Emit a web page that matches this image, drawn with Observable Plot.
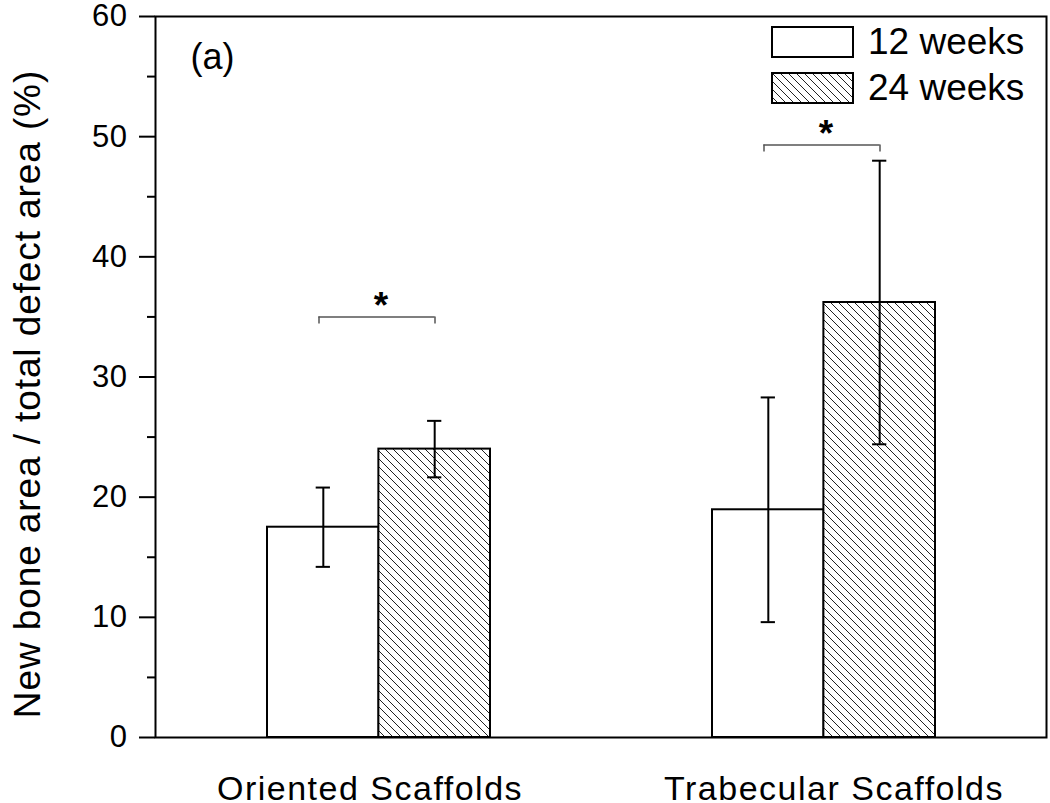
<!DOCTYPE html>
<html>
<head>
<meta charset="utf-8">
<script src="https://cdn.jsdelivr.net/npm/d3@7"></script>
<script src="https://cdn.jsdelivr.net/npm/@observablehq/plot@0.6"></script>
<style>
  html, body { margin: 0; padding: 0; background: white; }
  #wrap { position: relative; width: 1050px; height: 803px; font-family: "Liberation Sans", Arial, sans-serif; }
  #legend { position: absolute; left: 771px; top: 26px; }
  .row { display: flex; align-items: center; height: 32px; margin-bottom: 14px; }
  .row svg { display: block; }
  .row span { font-size: 37px; margin-left: 14px; line-height: 32px; color: black; }
</style>
</head>
<body>
<div id="wrap">
  <div id="chart"></div>
  <div id="legend"></div>
</div>
<script>
// ---- data ----
const groups = ["Oriented Scaffolds", "Trabecular Scaffolds"];
const seriesNames = ["12 weeks", "24 weeks"];
const mean12 = [17.5, 18.95];
const err12 = [3.3, 9.35];
const mean24 = [24.0, 36.2];
const err24 = [2.35, 11.8];
const sigLevel = [35, 49.3];
const sigLabel = ["*", "*"];
const yMajorTicks = [0, 10, 20, 30, 40, 50, 60];
const yMinorTicks = [5, 15, 25, 35, 45, 55];
const yTitle = "New bone area / total defect area (%)";
const panelLabel = ["(a)"];

// ---- layout ----
const W = 1050, H = 803;
const mL = 155, mR = 4, mT = 16, mB = 66;
const innerW = W - mL - mR;
const bw = innerW / 4;          // band width per group (paddingInner .5, paddingOuter .25)
const half = bw / 2;            // one bar width
const off = half / 2;           // offset of each bar centre from group centre
const capW = 14;
const capInset = (bw - capW) / 2;

const rows = [];
groups.forEach((g, i) => {
  rows.push({group: g, series: seriesNames[0], mean: mean12[i], lo: mean12[i] - err12[i], hi: mean12[i] + err12[i]});
  rows.push({group: g, series: seriesNames[1], mean: mean24[i], lo: mean24[i] - err24[i], hi: mean24[i] + err24[i]});
});
const r12 = rows.filter(d => d.series === seriesNames[0]);
const r24 = rows.filter(d => d.series === seriesNames[1]);
const sig = groups.map((g, i) => ({group: g, y: sigLevel[i], label: sigLabel[i]}));

const hatchFill = "url(#hatch24)";
const labelStyle = {frameAnchor: "bottom", dy: 38, fontSize: 34, lineAnchor: "top", fill: "black"};

const plot = Plot.plot({
  width: W, height: H,
  marginLeft: mL, marginRight: mR, marginTop: mT, marginBottom: mB,
  style: {fontFamily: "'Liberation Sans', Arial, sans-serif", fontSize: "31px", color: "black", background: "white"},
  x: {domain: groups, paddingInner: 0.5, paddingOuter: 0.25, axis: null},
  y: {domain: [0, 60], axis: null},
  marks: [
    Plot.barY(r12, {x: "group", y: "mean", fill: "white", stroke: "black", strokeWidth: 2, insetRight: half}),
    Plot.barY(r24, {x: "group", y: "mean", fill: hatchFill, stroke: "black", strokeWidth: 2, insetLeft: half}),
    // error bars
    Plot.ruleX(r12, {x: "group", y1: "lo", y2: "hi", dx: -off, stroke: "black", strokeWidth: 2}),
    Plot.ruleX(r24, {x: "group", y1: "lo", y2: "hi", dx: off, stroke: "black", strokeWidth: 2}),
    Plot.tickY(r12, {x: "group", y: "lo", dx: -off, insetLeft: capInset, insetRight: capInset, stroke: "black", strokeWidth: 2}),
    Plot.tickY(r12, {x: "group", y: "hi", dx: -off, insetLeft: capInset, insetRight: capInset, stroke: "black", strokeWidth: 2}),
    Plot.tickY(r24, {x: "group", y: "lo", dx: off, insetLeft: capInset, insetRight: capInset, stroke: "black", strokeWidth: 2}),
    Plot.tickY(r24, {x: "group", y: "hi", dx: off, insetLeft: capInset, insetRight: capInset, stroke: "black", strokeWidth: 2}),
    // significance brackets
    Plot.tickY(sig, {x: "group", y: "y", insetLeft: half - 60, insetRight: half - 56, stroke: "#555", strokeWidth: 1.5}),
    Plot.ruleX(sig, {x: "group", y1: "y", y2: "y", dx: -60, insetTop: 0, insetBottom: -7, stroke: "#555", strokeWidth: 1.5}),
    Plot.ruleX(sig, {x: "group", y1: "y", y2: "y", dx: 56, insetTop: 0, insetBottom: -7, stroke: "#555", strokeWidth: 1.5}),
    Plot.text(sig, {x: "group", y: "y", text: "label", dx: 2, dy: -11, fontSize: 37, fontWeight: "bold", fill: "black"}),
    // frame & axes
    Plot.frame({stroke: "black", strokeWidth: 2}),
    Plot.axisY({ticks: yMajorTicks, tickSize: 16, tickPadding: 12, strokeWidth: 2, fontSize: 31, label: null}),
    Plot.axisY({ticks: yMinorTicks, tickSize: 8, tickFormat: () => "", strokeWidth: 2, label: null}),
    Plot.text([groups[0]], {x: d => d, ...labelStyle, dx: -9}),
    Plot.text([groups[1]], {x: d => d, ...labelStyle, dx: 10}),
    Plot.text([yTitle], {frameAnchor: "left", rotate: -90, dx: -127, dy: 17, fontSize: 37, textAnchor: "middle", lineAnchor: "middle", fill: "black"}),
    Plot.text(panelLabel, {frameAnchor: "top-left", dx: 35, dy: 27, lineAnchor: "top", textAnchor: "start", fontSize: 36, fill: "black"})
  ]
});

const patternDef = `<defs><pattern id="hatch24" patternUnits="userSpaceOnUse" width="8" height="8">
  <rect width="8" height="8" fill="white"/>
  <path d="M-2,-2 L10,10 M-2,6 L2,10 M6,-2 L10,2" stroke="#222" stroke-width="1"/></pattern></defs>`;
plot.insertAdjacentHTML("afterbegin", patternDef);
const svgSel = d3.select(plot);
svgSel.selectAll("text").filter(function() { return groups.includes(this.textContent); }).style("letter-spacing", "1.5px");
svgSel.selectAll("text").filter(function() { return this.textContent === yTitle; }).style("letter-spacing", "0.9px");
svgSel.selectAll('[aria-label="y-axis tick label"] text').style("letter-spacing", "0.5px");
document.getElementById("chart").appendChild(plot);

// legend
const legend = d3.select("#legend");
seriesNames.forEach((s, i) => {
  const row = legend.append("div").attr("class", "row");
  const sw = row.append("svg").attr("width", 83).attr("height", 32);
  if (i === 1) {
    sw.append("defs").html(`<pattern id="hatchLeg" patternUnits="userSpaceOnUse" width="8" height="8">
      <rect width="8" height="8" fill="white"/>
      <path d="M-2,-2 L10,10 M-2,6 L2,10 M6,-2 L10,2" stroke="#222" stroke-width="1"/></pattern>`);
  }
  sw.append("rect").attr("x", 1).attr("y", 1).attr("width", 81).attr("height", 30)
    .attr("fill", i === 1 ? "url(#hatchLeg)" : "white").attr("stroke", "black").attr("stroke-width", 2);
  row.append("span").text(s);
});
</script>
</body>
</html>
